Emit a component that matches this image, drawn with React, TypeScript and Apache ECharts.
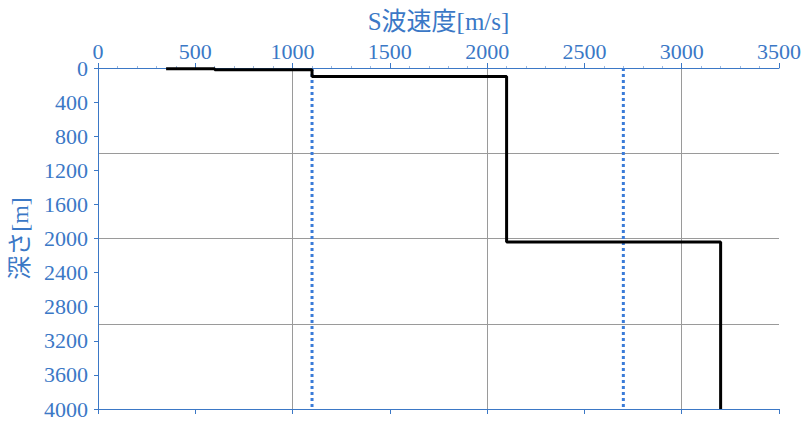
import { useEffect, useRef } from 'react'
import * as echarts from 'echarts'

// step profile of S-wave velocity vs depth
const profileVelocity = [350, 600, 600, 1100, 1100, 2100, 2100, 3200, 3200]
const profileDepth = [8, 8, 20, 20, 100, 100, 2040, 2040, 4000]

// dotted reference velocities
const refVelocities = [1100, 2700]
const refDepthRange = [0, 4000]

const xTitle = 'S波速度[m/s]'
const yTitle = '深さ[m]'

const BLUE = '#3b78c6'
const FONT = '"Liberation Serif", "Times New Roman", "Noto Sans CJK JP", serif'
const plain = (v: number) => String(v)

export default function App() {
  const ref = useRef<HTMLDivElement>(null)

  useEffect(() => {
    document.body.style.margin = '0'
    if (!ref.current) return
    const chart = echarts.init(ref.current, undefined, { renderer: 'svg' })

    const lineData = profileVelocity.map((v, i) => [v, profileDepth[i]])
    const refSeries = refVelocities.map((v) => ({
      type: 'line' as const,
      data: refDepthRange.map((d) => [v, d]),
      symbol: 'none',
      silent: true,
      lineStyle: { color: '#3a7bd8', width: 3, type: [3, 3] as number[] },
      z: 3,
    }))

    const option: echarts.EChartsOption = {
      animation: false,
      textStyle: { fontFamily: FONT },
      grid: { left: 98, right: 31, top: 68, bottom: 17 },
      xAxis: [
        {
          type: 'value',
          position: 'top',
          min: 0,
          max: 3500,
          interval: 500,
          name: xTitle,
          nameLocation: 'middle',
          nameGap: 34,
          nameTextStyle: { color: BLUE, fontSize: 25, fontFamily: FONT },
          axisLabel: { color: BLUE, fontSize: 22, fontFamily: FONT, margin: 6, formatter: plain },
          axisLine: { show: true, lineStyle: { color: BLUE, width: 1 } },
          axisTick: { show: true, length: 5, lineStyle: { color: BLUE } },
          minorTick: { show: true, splitNumber: 5, length: 2, lineStyle: { color: '#9bb8e0' } },
          splitLine: { show: false },
        },
        {
          type: 'value',
          position: 'bottom',
          min: 0,
          max: 3500,
          interval: 500,
          axisLabel: { show: false },
          axisLine: { show: true, onZero: false, lineStyle: { color: BLUE, width: 1 } },
          axisTick: { show: true, length: 5, lineStyle: { color: BLUE } },
          splitLine: { show: false },
        },
        {
          type: 'value',
          position: 'bottom',
          min: 0,
          max: 3500,
          interval: 1000,
          axisLabel: { show: false },
          axisLine: { show: false },
          axisTick: { show: false },
          splitLine: {
            show: true,
            showMinLine: false,
            showMaxLine: false,
            lineStyle: { color: '#9a9a9a', width: 1 },
          },
        },
      ],
      yAxis: [
        {
          type: 'value',
          inverse: true,
          min: 0,
          max: 4000,
          interval: 400,
          name: yTitle,
          nameLocation: 'middle',
          nameGap: 66,
          nameTextStyle: { color: BLUE, fontSize: 24, fontFamily: FONT },
          axisLabel: { color: BLUE, fontSize: 22, fontFamily: FONT, margin: 10, formatter: plain },
          axisLine: { show: true, onZero: false, lineStyle: { color: BLUE, width: 1 } },
          axisTick: { show: true, length: 4, lineStyle: { color: BLUE } },
          splitLine: { show: false },
        },
        {
          type: 'value',
          inverse: true,
          min: 0,
          max: 4000,
          interval: 1000,
          axisLabel: { show: false },
          axisLine: { show: false },
          axisTick: { show: false },
          splitLine: {
            show: true,
            showMinLine: false,
            showMaxLine: false,
            lineStyle: { color: '#9a9a9a', width: 1 },
          },
        },
      ],
      series: [
        {
          type: 'line',
          data: lineData,
          symbol: 'none',
          silent: true,
          lineStyle: { color: '#000', width: 3 },
          z: 4,
        },
        ...refSeries,
      ],
    }

    chart.setOption(option)
    return () => chart.dispose()
  }, [])

  return <div ref={ref} style={{ width: 810, height: 426 }} />
}
